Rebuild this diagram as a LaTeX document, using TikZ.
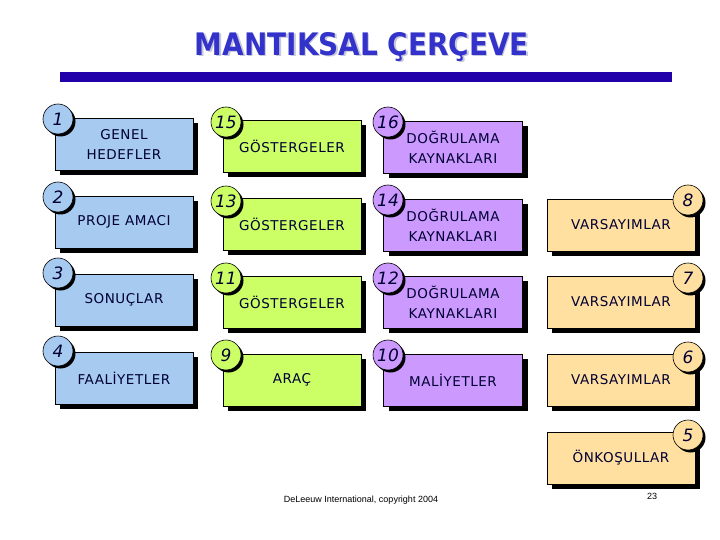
\documentclass[tikz,border=0pt]{standalone}
\usepackage{fontspec}
\setmainfont{DejaVu Sans}
\newfontfamily\boxfont[LetterSpace=4]{DejaVu Sans}
\newfontfamily\titlefont{DejaVu Sans Condensed}
\newfontfamily\footfont{Liberation Sans}
\usetikzlibrary{shadows}
\definecolor{cblue}{HTML}{A6CAF0}
\definecolor{cgreen}{HTML}{CCFF66}
\definecolor{cpurple}{HTML}{CC99FF}
\definecolor{corange}{HTML}{FFE0A0}
\definecolor{ctitle}{HTML}{3333CC}
\definecolor{ctitleshadow}{HTML}{C8C8DC}
\definecolor{cbar}{HTML}{2200AA}
\definecolor{ctext}{HTML}{000033}
\tikzset{
  cardbox/.style={draw=black, line width=0.6pt, minimum width=138pt, minimum height=52pt,
    align=center, inner sep=0pt, text=ctext, font=\boxfont\fontsize{13.5}{20}\selectfont,
    drop shadow={shadow xshift=5pt, shadow yshift=-5pt, fill=black, opacity=1}},
  numcirc/.style={circle, draw=black, line width=0.6pt, minimum size=30pt, inner sep=0pt,
    text=ctext, font=\fontsize{17}{17}\selectfont\itshape,
    drop shadow={shadow xshift=2.5pt, shadow yshift=-2.5pt, fill=black, opacity=1}},
  bluebox/.style={cardbox, fill=cblue},
  greenbox/.style={cardbox, fill=cgreen},
  purplebox/.style={cardbox, fill=cpurple, minimum width=139pt},
  orangebox/.style={cardbox, fill=corange, minimum width=148pt},
  bluecirc/.style={numcirc, fill=cblue},
  greencirc/.style={numcirc, fill=cgreen},
  purplecirc/.style={numcirc, fill=cpurple},
  orangecirc/.style={numcirc, fill=corange},
  titletext/.style={font=\titlefont\bfseries\fontsize{31}{31}\selectfont},
}
\begin{document}
\begin{tikzpicture}[x=1pt, y=-1pt]
\useasboundingbox[fill=white] (0,0) rectangle (720,540);
% title
\node[titletext, text=ctitleshadow] (titleshadow) at (363.5,48.5) {MANTIKSAL ÇERÇEVE};
\node[titletext, text=ctitle] (title) at (362,47) {MANTIKSAL ÇERÇEVE};
\fill[cbar] (60,72) rectangle (672,82);
% blue column
\node[bluebox] (b1) at (124,144) {GENEL\\HEDEFLER};
\node[bluebox] (b2) at (124,222) {PROJE AMACI};
\node[bluebox] (b3) at (124,300) {SONUÇLAR};
\node[bluebox] (b4) at (124,378) {FAALİYETLER};
\node[bluecirc] (n1) at (58,119) {1};
\node[bluecirc] (n2) at (58,197) {2};
\node[bluecirc] (n3) at (58,273) {3};
\node[bluecirc] (n4) at (58,351) {4};
% green column
\node[greenbox] (g15) at (292,146) {GÖSTERGELER};
\node[greenbox] (g13) at (292,224) {GÖSTERGELER};
\node[greenbox] (g11) at (292,302) {GÖSTERGELER};
\node[greenbox] (g9) at (292,380) {ARAÇ};
\node[greencirc] (n15) at (226,122) {15};
\node[greencirc] (n13) at (226,201) {13};
\node[greencirc] (n11) at (226,278) {11};
\node[greencirc] (n9) at (226,355) {9};
% purple column
\node[purplebox] (p16) at (453,147) {DOĞRULAMA\\KAYNAKLARI};
\node[purplebox] (p14) at (453,225) {DOĞRULAMA\\KAYNAKLARI};
\node[purplebox] (p12) at (453,302) {DOĞRULAMA\\KAYNAKLARI};
\node[purplebox] (p10) at (453,380) {MALİYETLER};
\node[purplecirc] (n16) at (388,122) {16};
\node[purplecirc] (n14) at (388,200) {14};
\node[purplecirc] (n12) at (388,278) {12};
\node[purplecirc] (n10) at (388,355) {10};
% orange column
\node[orangebox] (o8) at (621,225) {VARSAYIMLAR};
\node[orangebox] (o7) at (621,302) {VARSAYIMLAR};
\node[orangebox] (o6) at (621,380) {VARSAYIMLAR};
\node[orangebox] (o5) at (621,458) {ÖNKOŞULLAR};
\node[orangecirc] (n8) at (688,200) {8};
\node[orangecirc] (n7) at (688,278) {7};
\node[orangecirc] (n6) at (688,357) {6};
\node[orangecirc] (n5) at (688,435) {5};
% footer
\node[font=\footfont\fontsize{9}{9}\selectfont] (foot) at (361,500) {DeLeeuw International, copyright 2004};
\node[font=\footfont\fontsize{9}{9}\selectfont] (page) at (652,496) {23};
\end{tikzpicture}
\end{document}
